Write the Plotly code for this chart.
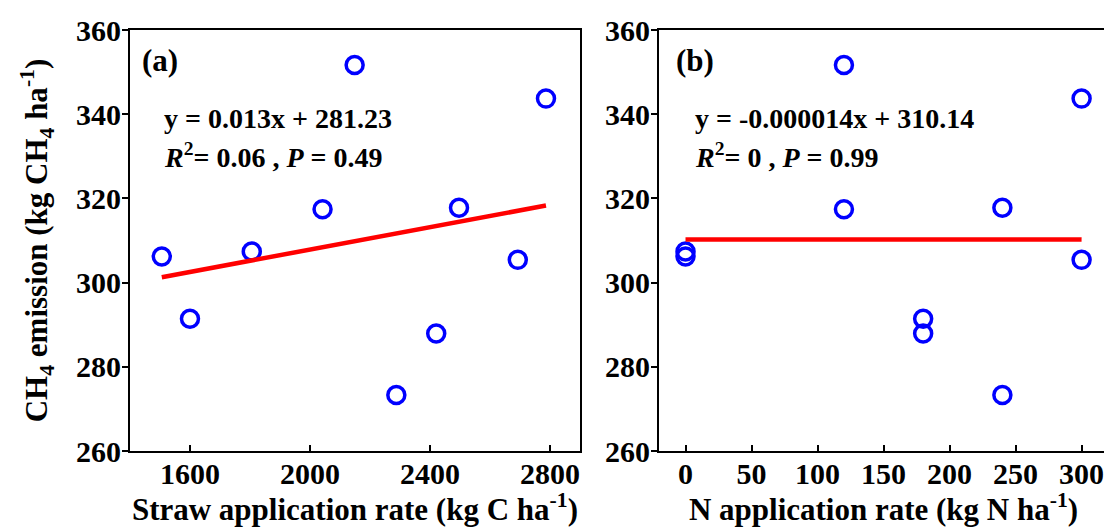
import numpy as np
import plotly.graph_objects as go
from plotly.subplots import make_subplots

# Data
straw_rate = [1506, 1600, 1806, 2042, 2149, 2288, 2421, 2497, 2693, 2787]
n_rate = [0, 180, 0, 120, 120, 240, 180, 240, 300, 300]
ch4_emission = [306.2, 291.4, 307.4, 317.4, 351.7, 273.3, 287.9, 317.8, 305.4, 343.7]

x_ticks_a = [1600, 2000, 2400, 2800]
x_ticks_b = [0, 50, 100, 150, 200, 250, 300]
y_ticks = [260, 280, 300, 320, 340, 360]

FONT = "Liberation Serif"
BLUE = "#0000FF"
RED = "#FF0000"

fig = make_subplots(rows=1, cols=2)


def add_panel(xvals, col):
    fig.add_trace(go.Scatter(x=xvals, y=ch4_emission, mode="markers",
                             marker=dict(symbol="circle-open", size=17, color=BLUE,
                                         line=dict(width=3.5, color=BLUE)),
                             showlegend=False), row=1, col=col)
    slope, intercept = np.polyfit(xvals, ch4_emission, 1)
    xl = np.array([min(xvals), max(xvals)], dtype=float)
    fig.add_trace(go.Scatter(x=xl, y=slope * xl + intercept, mode="lines",
                             line=dict(color=RED, width=4.5), showlegend=False),
                  row=1, col=col)


add_panel(straw_rate, 1)
add_panel(n_rate, 2)

tickfont = dict(family=FONT, size=30, color="black", weight="bold")
titlefont = dict(family=FONT, size=31, color="black", weight="bold")

common_x = dict(showline=True, linewidth=2, linecolor="black", mirror=True,
                ticks="inside", ticklen=6, tickwidth=2, tickcolor="black",
                showgrid=False, zeroline=False, tickfont=tickfont,
                ticklabelstandoff=-5, ticklabeloverflow="allow")
common_y = dict(showline=True, linewidth=2, linecolor="black", mirror=True,
                ticks="outside", ticklen=6, tickwidth=2, tickcolor="black",
                showgrid=False, zeroline=False, tickfont=tickfont,
                ticklabelstandoff=-5, ticklabeloverflow="allow",
                range=[260, 360], tickvals=y_ticks)

fig.update_xaxes(**common_x, range=[1400, 2900], tickvals=x_ticks_a,
                 domain=[0, 0.460],
                 title=dict(text="Straw application rate (kg C ha<sup>-1</sup>)",
                            font=titlefont, standoff=10), row=1, col=1)
fig.update_xaxes(**common_x, range=[-20, 320], tickvals=x_ticks_b,
                 domain=[0.541, 1],
                 title=dict(text="N application rate (kg N ha<sup>-1</sup>)",
                            font=titlefont, standoff=10), row=1, col=2)
fig.update_yaxes(**common_y,
                 title=dict(text="CH<sub>4</sub> emission (kg CH<sub>4</sub> ha<sup>-1</sup>)",
                            font=titlefont, standoff=19), row=1, col=1)
fig.update_yaxes(**common_y, row=1, col=2)

anns = [
    ("x domain", "y domain", 0.022, 0.927, "(a)", 31),
    ("x domain", "y domain", 0.071, 0.79, "y = 0.013x + 281.23", 28),
    ("x domain", "y domain", 0.071, 0.702, "<i>R</i><sup>2</sup>= 0.06 , <i>P</i> = 0.49", 28),
    ("x2 domain", "y2 domain", 0.034, 0.927, "(b)", 31),
    ("x2 domain", "y2 domain", 0.076, 0.79, "y = -0.000014x + 310.14", 28),
    ("x2 domain", "y2 domain", 0.076, 0.702, "<i>R</i><sup>2</sup>= 0 , <i>P</i> = 0.99", 28),
]
for xr, yr, x, y, t, s in anns:
    fig.add_annotation(xref=xr, yref=yr, x=x, y=y, text=t, showarrow=False,
                       xanchor="left", yanchor="middle",
                       font=dict(family=FONT, size=s, color="black", weight="bold"))

# page body has a default margin, so the figure is slightly offset
fig.update_layout(width=1107, height=519,
                  margin=dict(l=122, r=5, t=18, b=71),
                  paper_bgcolor="white", plot_bgcolor="white",
                  font=dict(family=FONT, color="black"))

fig.write_html("out.html")
